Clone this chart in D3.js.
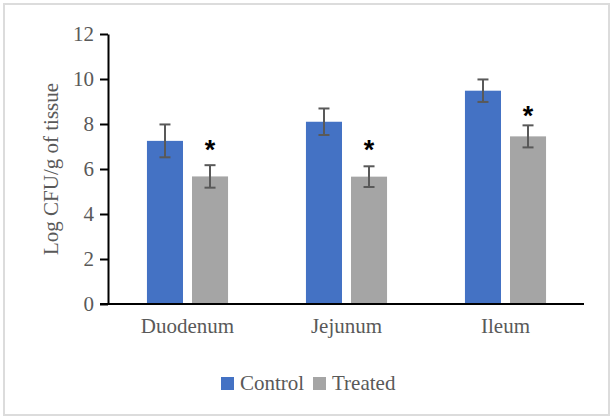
<!DOCTYPE html>
<html>
<head>
<meta charset="utf-8">
<script src="https://cdn.jsdelivr.net/npm/d3@7/dist/d3.min.js"></script>
<style>
  html, body { margin: 0; padding: 0; background: #fff; }
  svg { display: block; }
  .serif { font-family: "Liberation Serif", "Times New Roman", Tinos, serif; }
</style>
</head>
<body>
<svg id="chart" width="611" height="417"></svg>
<script>
// Bacterial load per intestinal segment (log CFU per gram of tissue)
const categories = ["Duodenum", "Jejunum", "Ileum"];
const seriesNames = ["Control", "Treated"];
const controlValues = [7.25, 8.1, 9.48];
const controlErrors = [0.73, 0.59, 0.5];
const treatedValues = [5.67, 5.66, 7.45];
const treatedErrors = [0.5, 0.46, 0.49];
// Height (in axis units) at which the significance marks sit
const significanceLevels = [7.15, 7.15, 8.65];
const yTicks = [0, 2, 4, 6, 8, 10, 12];

const colors = { Control: "#4472C4", Treated: "#A5A5A5" };
const textColor = "#595959";
const serifFont = '"Liberation Serif", "Times New Roman", Tinos, serif';

const svg = d3.select("#chart");

// Outer frame
svg.append("rect")
  .attr("x", 4).attr("y", 4)
  .attr("width", 605).attr("height", 411)
  .attr("fill", "#fff")
  .attr("stroke", "#dcdcdc")
  .attr("stroke-width", 2);

const plot = { left: 108, right: 585, top: 34, bottom: 304 };

const x0 = d3.scaleBand()
  .domain(categories)
  .range([plot.left, plot.right])
  .paddingInner(0.49)
  .paddingOuter(0.245);

const x1 = d3.scaleBand()
  .domain(seriesNames)
  .range([0, x0.bandwidth()])
  .paddingInner(0.2)
  .paddingOuter(0);

const y = d3.scaleLinear()
  .domain([0, 12])
  .range([plot.bottom, plot.top]);

const rows = categories.map((c, i) => ({
  category: c,
  values: [
    { series: "Control", value: controlValues[i], err: controlErrors[i] },
    { series: "Treated", value: treatedValues[i], err: treatedErrors[i] }
  ],
  sig: significanceLevels[i]
}));

// Bars
const groups = svg.append("g")
  .selectAll("g")
  .data(rows)
  .join("g")
  .attr("transform", d => `translate(${x0(d.category)},0)`);

groups.selectAll("rect")
  .data(d => d.values)
  .join("rect")
  .attr("x", d => x1(d.series))
  .attr("y", d => y(d.value))
  .attr("width", x1.bandwidth())
  .attr("height", d => y(0) - y(d.value))
  .attr("fill", d => colors[d.series]);

// Error bars
const capHalf = 5.5;
const errG = groups.selectAll("g.err")
  .data(d => d.values)
  .join("g")
  .attr("class", "err")
  .attr("stroke", "#595959")
  .attr("stroke-width", 2)
  .attr("fill", "none");

const cx = d => x1(d.series) + x1.bandwidth() / 2;
errG.append("line")
  .attr("x1", cx).attr("x2", cx)
  .attr("y1", d => y(d.value + d.err))
  .attr("y2", d => y(d.value - d.err));
errG.append("line")
  .attr("x1", d => cx(d) - capHalf).attr("x2", d => cx(d) + capHalf)
  .attr("y1", d => y(d.value + d.err))
  .attr("y2", d => y(d.value + d.err));
errG.append("line")
  .attr("x1", d => cx(d) - capHalf).attr("x2", d => cx(d) + capHalf)
  .attr("y1", d => y(d.value - d.err))
  .attr("y2", d => y(d.value - d.err));

// Significance asterisks over the treated bars
groups.append("text")
  .attr("x", x1("Treated") + x1.bandwidth() / 2)
  .attr("y", d => y(d.sig) + 16)
  .attr("text-anchor", "middle")
  .style("font-family", "'Liberation Sans', Arial, sans-serif")
  .style("font-weight", "bold")
  .style("font-size", "27px")
  .attr("fill", "#000")
  .text("*");

// Y axis
const yAxis = svg.append("g")
  .attr("transform", `translate(${plot.left},0)`)
  .call(d3.axisLeft(y).tickValues(yTicks).tickSize(8).tickPadding(6).tickSizeOuter(0));
yAxis.attr("font-family", null).attr("font-size", null);
yAxis.select(".domain").attr("stroke", "#000").attr("stroke-width", 2);
yAxis.selectAll(".tick line").attr("stroke", "#000").attr("stroke-width", 2);
yAxis.selectAll(".tick text")
  .style("font-family", serifFont)
  .style("font-size", "21px")
  .attr("fill", textColor);

// X axis
const xAxis = svg.append("g")
  .attr("transform", `translate(0,${plot.bottom})`)
  .call(d3.axisBottom(x0).tickSize(0).tickPadding(14).tickSizeOuter(0));
xAxis.attr("font-family", null).attr("font-size", null);
xAxis.select(".domain").remove();
xAxis.append("line")
  .attr("x1", plot.left - 8).attr("x2", plot.right - 1)
  .attr("y1", 0).attr("y2", 0)
  .attr("stroke", "#000").attr("stroke-width", 2);
xAxis.selectAll(".tick text")
  .style("font-family", serifFont)
  .style("font-size", "21px")
  .attr("fill", textColor);

// Y axis title
svg.append("text")
  .attr("transform", "translate(58,169) rotate(-90)")
  .attr("text-anchor", "middle")
  .style("font-family", serifFont)
  .style("font-size", "21px")
  .attr("fill", textColor)
  .text("Log CFU/g of tissue");

// Legend
const legendPos = [221, 313];
const legend = svg.append("g")
  .selectAll("g")
  .data(seriesNames)
  .join("g")
  .attr("transform", (d, i) => `translate(${legendPos[i]},377)`);
legend.append("rect")
  .attr("width", 13).attr("height", 13)
  .attr("fill", d => colors[d]);
legend.append("text")
  .attr("x", 19).attr("y", 12.5)
  .style("font-family", serifFont)
  .style("font-size", "21px")
  .attr("fill", textColor)
  .text(d => d);
</script>
</body>
</html>
